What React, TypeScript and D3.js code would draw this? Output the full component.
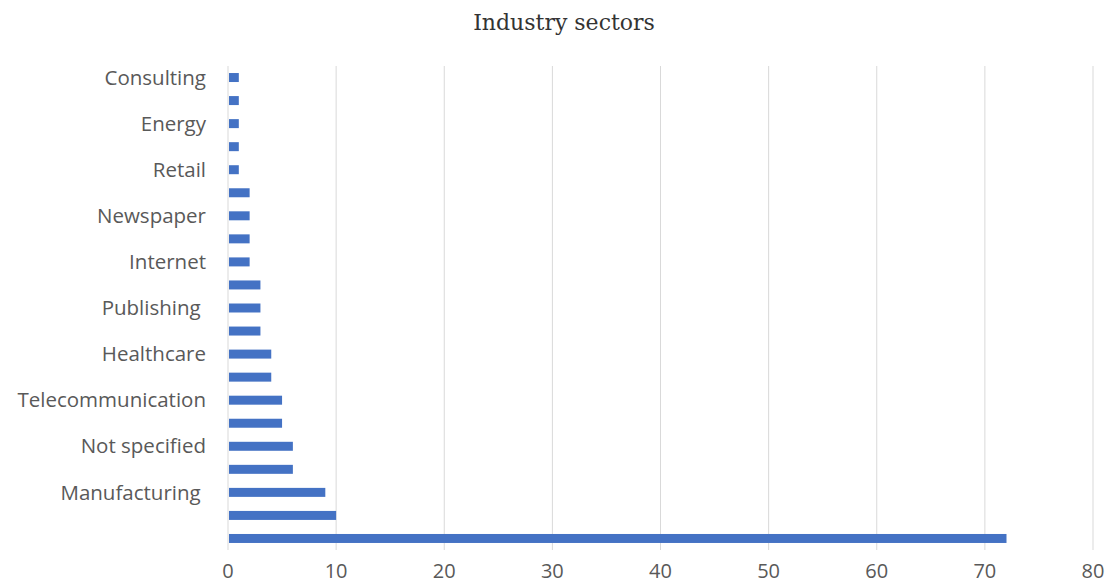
import React from "react";
import * as d3 from "d3";

// Categories top to bottom ("" = label not shown on the axis)
const categories: string[] = [
  "Consulting", "", "Energy", "", "Retail", "", "Newspaper", "", "Internet", "",
  "Publishing ", "", "Healthcare", "", "Telecommunication", "", "Not specified", "",
  "Manufacturing ", "", "",
];
const values: number[] = [
  1, 1, 1, 1, 1, 2, 2, 2, 2, 3, 3, 3, 4, 4, 5, 5, 6, 6, 9, 10, 72,
];
const xTicks: number[] = [0, 10, 20, 30, 40, 50, 60, 70, 80];
const title = "Industry sectors";

const W = 1108;
const H = 584;

export default function App() {
  const x = d3.scaleLinear().domain([0, 80]).range([228, 1093]);
  const y = d3
    .scaleBand<number>()
    .domain(d3.range(categories.length))
    .range([66, 550])
    .paddingInner(0.61)
    .paddingOuter(0.305);

  const labelFont = "'Open Sans', 'Noto Sans', sans-serif";

  return (
    <div style={{ position: "fixed", left: 0, top: 0 }}>
      <svg width={W} height={H} style={{ display: "block", background: "#fff" }}>
        <text
          x={564}
          y={30}
          textAnchor="middle"
          fontFamily="'DejaVu Serif', serif"
          fontSize={22}
          fill="#333"
        >
          {title}
        </text>
        {xTicks.map((t) => (
          <g key={t}>
            <line x1={x(t)} x2={x(t)} y1={66} y2={550} stroke="#d9d9d9" strokeWidth={1} />
            <text
              x={x(t)}
              y={578}
              textAnchor="middle"
              fontFamily={labelFont}
              fontSize={20}
              fill="#595959"
            >
              {t}
            </text>
          </g>
        ))}
        {values.map((v, i) => (
          <rect
            key={i}
            x={x(0) + 1}
            y={y(i)!}
            width={x(v) - x(0) - 1}
            height={y.bandwidth()}
            fill="#4472c4"
          />
        ))}
        {categories.map((c, i) =>
          c ? (
            <text
              key={i}
              x={206}
              y={y(i)! + y.bandwidth() / 2}
              dy="0.35em"
              textAnchor="end"
              fontFamily={labelFont}
              fontSize={20.5}
              fill="#595959"
              style={{ whiteSpace: "pre" }}
            >
              {c}
            </text>
          ) : null
        )}
      </svg>
    </div>
  );
}
